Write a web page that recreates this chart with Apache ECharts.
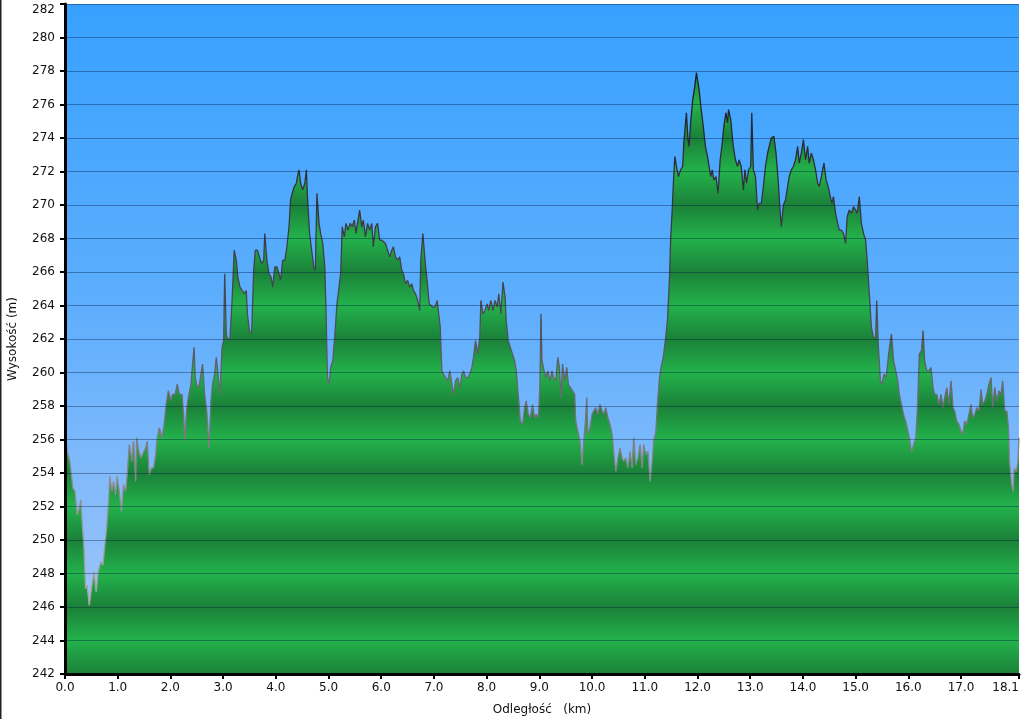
<!DOCTYPE html>
<html>
<head>
<meta charset="utf-8">
<script src="https://cdn.jsdelivr.net/npm/echarts@6/dist/echarts.min.js"></script>
<style>
html,body{margin:0;padding:0;background:#fff;}
#chart{width:1024px;height:719px;}
</style>
</head>
<body>
<div id="chart"></div>
<script>
// distance along route (km)
const distKm = [
0.00,0.04,0.09,0.15,0.19,0.23,0.27,0.30,0.32,0.36,0.39,0.42,0.46,0.51,0.55,0.59,0.63,0.68,0.72,0.75,
0.79,0.83,0.85,0.89,0.92,0.96,0.99,1.03,1.07,1.11,1.15,1.18,1.22,1.27,1.30,1.34,1.36,1.40,1.44,1.47,
1.53,1.56,1.60,1.64,1.68,1.72,1.75,1.79,1.84,1.88,1.92,1.96,2.01,2.04,2.09,2.13,2.17,2.22,2.25,2.27,
2.31,2.35,2.39,2.42,2.45,2.47,2.51,2.55,2.59,2.61,2.65,2.69,2.73,2.77,2.80,2.84,2.87,2.91,2.94,2.98,
3.01,3.03,3.06,3.09,3.13,3.17,3.21,3.25,3.28,3.32,3.36,3.40,3.44,3.46,3.50,3.54,3.58,3.61,3.65,3.69,
3.73,3.77,3.79,3.83,3.87,3.91,3.94,3.98,4.02,4.06,4.09,4.13,4.17,4.21,4.25,4.28,4.31,4.35,4.39,4.41,
4.44,4.47,4.51,4.55,4.58,4.60,4.64,4.68,4.72,4.75,4.78,4.82,4.85,4.89,4.93,4.96,4.98,5.01,5.04,5.08,
5.12,5.16,5.20,5.23,5.26,5.30,5.33,5.37,5.41,5.45,5.49,5.52,5.56,5.59,5.63,5.66,5.70,5.74,5.78,5.82,
5.85,5.89,5.93,5.97,6.01,6.04,6.08,6.12,6.16,6.20,6.23,6.27,6.31,6.35,6.39,6.42,6.46,6.50,6.54,6.58,
6.61,6.65,6.69,6.73,6.75,6.79,6.83,6.87,6.91,6.94,6.98,7.02,7.06,7.09,7.12,7.15,7.18,7.22,7.26,7.30,
7.34,7.37,7.41,7.45,7.49,7.53,7.56,7.60,7.64,7.68,7.72,7.75,7.79,7.83,7.87,7.89,7.93,7.97,8.01,8.04,
8.08,8.12,8.16,8.20,8.23,8.27,8.31,8.35,8.37,8.41,8.45,8.49,8.53,8.56,8.60,8.64,8.68,8.72,8.75,8.79,
8.83,8.87,8.91,8.94,8.98,9.01,
9.03,9.05,9.09,9.12,9.16,9.20,9.24,9.27,9.31,9.35,9.38,9.41,9.44,9.48,9.52,9.55,9.59,9.63,9.67,9.69,
9.73,9.77,9.81,9.83,9.87,9.90,9.92,9.96,10.00,10.03,10.07,10.11,10.15,10.19,10.22,10.26,10.30,10.34,10.38,10.41,
10.45,10.49,10.53,10.57,10.60,10.64,10.68,10.72,10.76,10.79,10.83,10.87,10.91,10.95,10.98,11.02,11.06,11.10,11.14,11.17,
11.21,11.24,11.28,11.31,11.35,11.39,11.43,11.47,11.49,11.52,11.54,11.57,11.60,11.64,11.68,11.72,11.74,11.77,11.79,11.82,
11.84,11.87,11.91,11.95,11.98,12.01,12.03,12.07,12.11,12.15,12.19,12.22,12.25,12.28,12.31,12.35,12.39,12.43,12.47,12.50,
12.54,12.57,12.59,12.63,12.66,12.68,12.72,12.76,12.79,12.83,12.87,12.90,12.93,12.97,13.01,13.03,13.06,13.10,13.14,13.17,
13.21,13.25,13.29,13.33,13.36,13.40,13.45,13.49,13.53,13.57,13.59,13.63,13.67,13.71,13.74,13.78,13.82,13.86,13.90,13.93,
13.97,14.01,14.05,14.09,14.12,14.16,14.20,14.24,14.28,14.31,14.35,14.40,14.44,14.48,14.52,14.55,14.58,14.62,14.66,14.69,
14.73,14.77,14.81,14.84,14.88,14.92,14.96,15.00,15.03,15.07,15.11,15.15,15.19,15.22,15.26,15.30,15.34,15.38,15.40,15.43,
15.47,15.50,15.54,15.58,15.62,15.66,15.68,15.72,15.76,15.80,15.83,15.87,15.91,15.95,15.98,16.02,16.06,16.10,16.14,16.17,
16.21,16.25,16.28,16.31,16.35,16.39,16.43,16.47,16.50,16.54,16.58,16.62,16.66,16.69,16.73,16.77,16.81,16.85,16.88,16.92,
16.96,17.00,17.03,17.07,17.11,17.15,17.19,17.22,17.26,17.30,17.34,17.38,17.41,17.45,17.49,17.53,17.57,17.60,17.64,17.68,
17.72,17.76,17.79,17.83,17.87,17.90,17.92,17.96,17.99,18.01,18.05,18.08,18.10
];
// elevation (m)
const elevM = [
256.7,255.3,254.7,253.1,252.9,251.5,251.9,252.4,251.3,249.5,247.1,247.3,246.1,247.3,248.1,246.9,248.1,248.7,248.5,249.5,
250.7,252.5,253.8,252.9,253.5,252.7,253.8,252.9,251.7,253.3,252.9,253.9,255.7,254.7,255.9,253.5,256.1,255.3,254.9,255.1,
255.5,255.9,253.9,254.3,254.3,255.1,256.1,256.7,256.1,256.9,258.1,258.9,258.3,258.7,258.7,259.3,258.7,258.7,257.5,255.9,
257.9,258.7,259.3,260.5,261.5,259.7,259.1,259.3,260.1,260.5,258.7,257.7,255.5,258.3,259.3,259.9,260.9,259.7,258.7,261.5,
261.9,265.9,262.3,261.9,262.1,264.3,267.3,266.7,265.7,265.1,264.9,264.7,264.9,263.5,262.5,262.3,266.1,267.3,267.3,266.9,
266.5,266.7,268.3,266.7,265.9,265.7,265.1,266.3,266.3,265.9,265.5,266.7,266.7,267.5,268.7,270.3,270.7,271.1,271.3,271.7,
272.1,271.3,270.9,271.3,272.1,270.5,268.3,267.3,266.3,266.1,270.7,268.9,268.3,267.7,266.3,262.7,259.7,259.3,260.3,260.7,
262.3,264.1,265.1,265.9,268.7,268.1,268.9,268.5,268.9,268.7,269.1,268.3,269.1,269.7,268.7,269.1,268.1,268.9,268.5,268.9,
267.5,268.7,268.9,267.9,267.9,267.9,267.7,267.3,266.9,267.3,267.5,266.9,266.7,266.9,266.1,265.9,265.3,265.5,265.1,265.3,
264.9,264.7,264.3,263.7,266.7,268.3,266.7,265.5,264.1,264.1,263.9,263.9,264.3,263.5,262.7,260.1,259.9,259.7,259.5,260.1,
259.3,258.7,259.5,259.7,259.1,259.9,260.1,259.7,259.7,259.9,260.3,260.9,261.9,261.1,262.1,264.3,263.5,263.7,264.1,263.7,
264.3,263.7,264.3,263.9,264.7,263.5,265.4,264.5,263.1,261.9,261.5,261.1,260.7,260.1,258.7,257.1,256.9,257.9,258.3,257.5,
257.3,258.1,257.3,257.5,257.3,259.1,
263.5,260.7,260.1,259.7,260.1,259.5,260.1,259.7,259.5,260.9,260.3,258.5,260.5,259.5,260.3,259.3,259.1,258.9,258.7,257.1,
256.5,255.9,254.5,255.5,256.9,258.5,256.3,256.7,257.5,257.7,257.9,257.5,258.1,257.7,257.5,257.9,257.3,256.9,256.3,255.3,
254.1,254.9,255.5,254.9,254.7,254.9,254.3,255.3,254.3,256.1,254.5,254.9,255.7,254.3,255.7,255.1,255.3,253.5,254.7,255.9,
256.5,258.1,259.7,260.3,260.9,261.9,263.1,265.7,267.9,269.7,271.1,272.9,272.3,271.7,272.1,272.3,273.7,273.7,275.5,273.9,
273.5,274.9,276.3,277.1,277.9,277.9,276.9,275.7,274.7,273.5,272.9,272.3,271.7,272.1,271.5,271.7,270.7,272.7,273.7,274.7,
275.5,274.9,275.7,275.1,274.1,273.5,272.7,272.3,272.7,272.3,270.9,272.1,271.3,272.1,272.3,275.5,272.1,271.7,269.7,270.1,
270.1,271.1,272.3,273.1,273.5,274.0,274.1,273.1,271.5,269.5,268.7,270.0,270.3,271.1,271.7,272.1,272.3,272.7,273.5,272.5,
273.1,273.9,272.7,273.5,272.5,273.1,272.7,272.1,271.3,271.1,271.7,272.5,271.5,271.1,270.5,270.1,270.5,269.5,268.9,268.5,
268.5,268.3,267.7,269.3,269.7,269.5,269.9,269.7,269.5,270.5,268.9,268.3,267.9,266.7,264.7,262.7,262.1,262.1,264.3,261.7,
259.5,259.3,259.9,259.7,260.9,261.9,262.3,260.7,260.1,259.5,258.7,258.1,257.5,257.1,256.7,256.1,255.3,255.7,256.1,257.7,
261.1,261.3,262.5,260.7,260.1,260.1,260.3,259.1,258.7,258.7,258.1,258.7,257.9,258.5,259.1,258.1,259.5,257.9,257.7,257.1,
256.9,256.5,256.3,257.1,256.9,257.5,258.1,257.3,257.5,257.9,257.7,259.0,258.1,258.3,258.7,259.3,259.7,257.9,259.1,258.3,
258.9,258.7,259.5,257.7,257.7,256.7,254.7,253.3,252.9,254.3,254.1,254.7,256.1
];
// axis ticks
const xTickValues = [0,1,2,3,4,5,6,7,8,9,10,11,12,13,14,15,16,17,18.1];
const yMin = 242, yMax = 282, yStep = 2;

const seriesData = distKm.map((d, i) => [d, elevM[i]]);

// striped green fill (dark/light alternating bands)
const stripeStops = [];
const dark = '#1b8139', light = '#23b24b';
for (let i = 0; i <= 20; i++) {
  stripeStops.push({ offset: i / 20, color: i % 2 === 0 ? dark : light });
}

const chart = echarts.init(document.getElementById('chart'), null, { renderer: 'canvas' });
const gridTop = 4, gridBottom = 45, gridLeft = 65, gridRight = 5;
const plotTopPx = gridTop, plotBottomPx = 719 - gridBottom;

chart.setOption({
  animation: false,
  backgroundColor: '#ffffff',
  textStyle: { fontFamily: 'DejaVu Sans, Verdana, sans-serif' },
  grid: {
    left: gridLeft, right: gridRight, top: gridTop, bottom: gridBottom,
    containLabel: false, outerBoundsMode: 'none',
    show: true, borderWidth: 0,
    backgroundColor: {
      type: 'linear', x: 0, y: 0, x2: 0, y2: 1,
      colorStops: [
        { offset: 0, color: '#37a1ff' },
        { offset: 0.45, color: '#5eaefd' },
        { offset: 1, color: '#a9c8f8' }
      ]
    }
  },
  xAxis: {
    type: 'value', min: 0, max: 18.1, z: 5,
    name: 'Odległość   (km)', nameLocation: 'middle', nameGap: 30,
    nameTextStyle: { color: '#111', fontSize: 12, fontFamily: 'DejaVu Sans' },
    axisLine: { show: true, onZero: false, lineStyle: { color: '#000', width: 3 } },
    axisTick: { show: true, length: 5, lineStyle: { color: '#000', width: 2 }, customValues: xTickValues },
    axisLabel: {
      color: '#111', fontSize: 12, margin: 8, fontFamily: 'DejaVu Sans',
      customValues: xTickValues,
      alignMaxLabel: 'right',
      hideOverlap: false,
      formatter: v => Number(v).toFixed(1)
    },
    splitLine: { show: false }
  },
  yAxis: {
    type: 'value', min: yMin, max: yMax, interval: yStep, z: 5,
    name: 'Wysokość (m)', nameLocation: 'middle', nameGap: 46, nameRotate: 90,
    nameTextStyle: { color: '#111', fontSize: 12, fontFamily: 'DejaVu Sans' },
    axisLine: { show: true, lineStyle: { color: '#000', width: 3 } },
    axisTick: { show: true, length: 5, lineStyle: { color: '#000', width: 2 } },
    axisLabel: { color: '#111', fontSize: 12, margin: 10, fontFamily: 'DejaVu Sans', verticalAlignMaxLabel: 'top' },
    splitLine: { show: true, lineStyle: { color: 'rgba(0,20,60,0.38)', width: 1 } }
  },
  graphic: [
    { type: 'rect', left: 0, top: 0, shape: { width: 1.5, height: 719 }, style: { fill: '#222' }, z: 100 }
  ],
  series: [{
    type: 'line',
    data: seriesData,
    showSymbol: false,
    symbol: 'none',
    sampling: 'none',
    z: 2,
    lineStyle: {
      width: 1.3,
      color: {
        type: 'linear', x: 0, y: 0, x2: 0, y2: 1,
        colorStops: [
          { offset: 0, color: '#1c1c24' },
          { offset: 0.45, color: '#4a4a52' },
          { offset: 0.75, color: '#8a8a8e' },
          { offset: 1, color: '#a8a8a8' }
        ]
      }
    },
    areaStyle: {
      origin: 'start',
      opacity: 1,
      color: {
        type: 'linear', x: 0, y: plotTopPx, x2: 0, y2: plotBottomPx, global: true,
        colorStops: stripeStops
      }
    }
  }]
});
</script>
</body>
</html>
